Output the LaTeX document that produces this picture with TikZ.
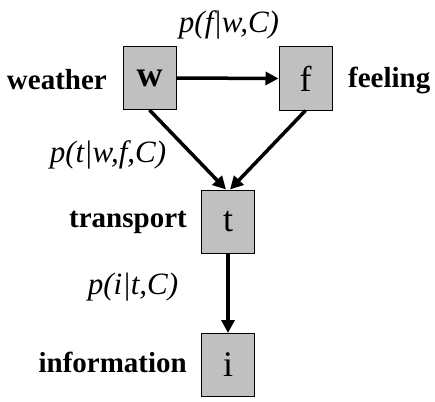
\documentclass[tikz,border=0pt]{standalone}
\usepackage{fontspec}
\setmainfont{Liberation Serif}
\usetikzlibrary{arrows.meta}
\begin{document}
\begin{tikzpicture}[x=1pt,y=-1pt,
  box/.style={draw=black,line width=1pt,fill={rgb,255:red,192;green,192;blue,192},minimum width=53pt,minimum height=63pt,inner sep=0pt,font=\fontsize{36}{38}\selectfont},
  lbl/.style={font=\bfseries\fontsize{29}{31}\selectfont,inner sep=0pt},
  prob/.style={font=\itshape\fontsize{31}{33}\selectfont,inner sep=0pt},
  arr/.style={line width=3.5pt,-{Triangle[length=13pt,width=13pt]}}]
\useasboundingbox (0,0) rectangle (435,401);
\node[box] (w) at (149.5,78) {\textbf{w}};
\node[box] (f) at (305.5,78.5) {f};
\node[box] (t) at (228,221.5) {t};
\node[box] (i) at (228,365) {i};
\node[lbl,anchor=east] (lw) at (107,80) {weather};
\node[lbl,anchor=west] (lf) at (348,80) {feeling};
\node[lbl,anchor=east] (lt) at (187,222) {transport};
\node[lbl,anchor=east] (li) at (187,362) {information};
\node[prob] (p1) at (229,25) {p(f|w,C)};
\node[prob] (p2) at (108,155) {p(t|w,f,C)};
\node[prob] (p3) at (133,287) {p(i|t,C)};
\draw[arr] (w.east) -- (f.west);
\draw[arr] (w.south) -- ([xshift=-2pt]t.north);
\draw[arr] (f.south) -- ([xshift=2pt]t.north);
\draw[arr] (t.south) -- (i.north);
\end{tikzpicture}
\end{document}
